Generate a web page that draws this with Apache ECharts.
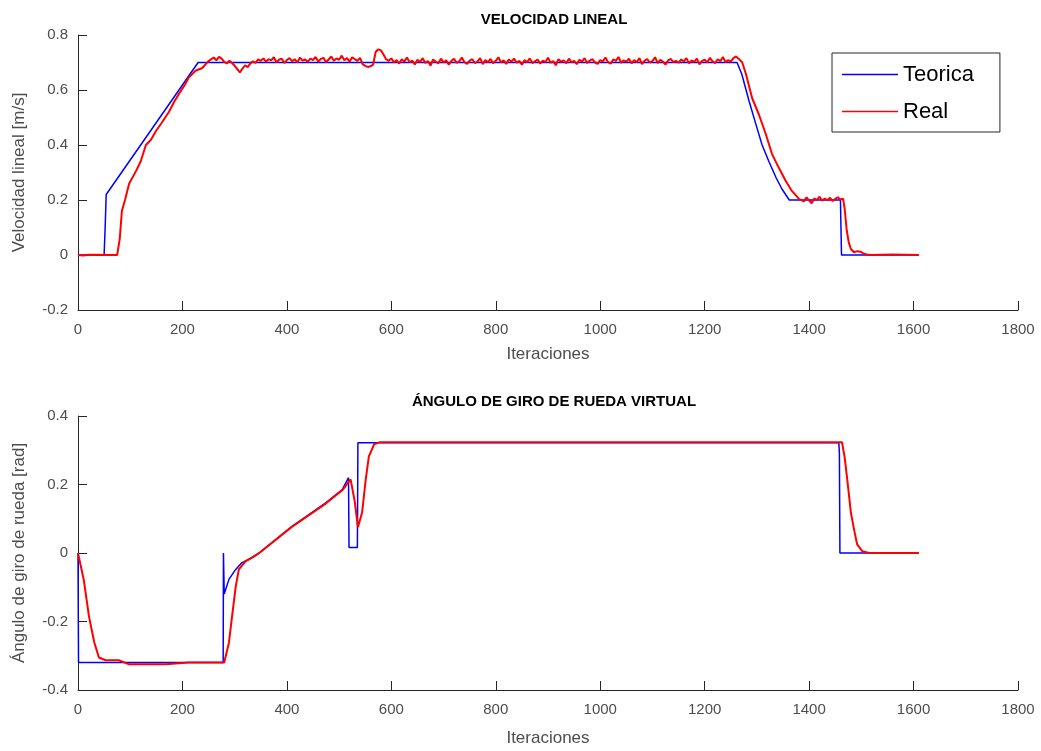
<!DOCTYPE html>
<html>
<head>
<meta charset="utf-8">
<script src="https://cdn.jsdelivr.net/npm/echarts@6/dist/echarts.min.js"></script>
<style>
  html, body { margin: 0; padding: 0; background: #fff; }
  #chart { width: 1041px; height: 751px; }
</style>
</head>
<body>
<div id="chart"></div>
<script>
// velocidad lineal - teorica
var teoricaVel = [[0,0],[50,0],[52,0.1],[54,0.22],[230,0.70],[1262,0.70],[1271,0.658],[1285,0.56],
  [1298,0.476],[1310,0.40],[1323,0.34],[1337,0.28],[1348,0.24],[1362,0.2],[1460,0.2],[1462,0],[1610,0]];

// velocidad lineal - real: arranque
var realVelStart = [[0,0],[10,-0.002],[20,0.001],[75,0],[80,0.06],[84,0.16],[90,0.2],[98,0.26],[111,0.305],
  [120,0.34],[130,0.4],[140,0.42],[149,0.45],[160,0.48],[174,0.52],[185,0.56],[193,0.585],[205,0.62],
  [212,0.645],[225,0.67],[238,0.68],[245,0.695]];

// velocidad lineal - real: tramo constante, una muestra cada 5 iteraciones desde 250
var realVelPlateauFrom = 250;
var realVelPlateauStep = 5;
var realVelPlateau = [
  0.705,0.712,0.718,0.708,0.721,0.714,0.702,0.697,0.706,0.698,0.688,0.676,0.664,0.678,0.690,0.683,0.697,0.704,0.699,0.711,
  0.706,0.715,0.703,0.712,0.708,0.719,0.701,0.710,0.714,0.698,0.709,0.716,0.705,0.712,0.700,0.718,0.707,0.711,0.703,0.714,
  0.709,0.720,0.704,0.713,0.717,0.702,0.711,0.722,0.706,0.715,0.710,0.725,0.708,0.716,0.703,0.719,0.712,0.706,0.717,0.694,
  0.688,0.684,0.686,0.692,0.738,0.748,0.744,0.729,0.712,0.706,0.715,0.700,0.709,0.696,0.712,0.704,0.718,0.701,0.707,0.693,
  0.710,0.702,0.716,0.698,0.705,0.689,0.711,0.703,0.697,0.714,0.700,0.708,0.692,0.706,0.713,0.699,0.704,0.718,0.701,0.695,
  0.707,0.712,0.698,0.703,0.716,0.694,0.709,0.701,0.713,0.697,0.706,0.719,0.700,0.708,0.695,0.711,0.703,0.714,0.699,0.706,
  0.692,0.709,0.701,0.715,0.698,0.704,0.711,0.696,0.707,0.702,0.717,0.699,0.705,0.690,0.712,0.703,0.708,0.697,0.714,0.701,
  0.706,0.694,0.710,0.703,0.716,0.698,0.707,0.712,0.700,0.695,0.709,0.704,0.718,0.701,0.696,0.711,0.706,0.720,0.699,0.708,
  0.703,0.714,0.697,0.709,0.701,0.716,0.694,0.707,0.712,0.700,0.705,0.719,0.698,0.710,0.703,0.692,0.708,0.713,0.701,0.706,
  0.699,0.711,0.704,0.716,0.697,0.708,0.702,0.714,0.693,0.706,0.710,0.700,0.717,0.704,0.698,0.712,0.705,0.720,0.701,0.709,
  0.703,0.716,0.722,0.714
];

// velocidad lineal - real: frenado
var realVelEnd = [[1272,0.70],[1279,0.658],[1291,0.57],[1304,0.51],[1317,0.44],[1329,0.367],[1342,0.317],
  [1355,0.27],[1367,0.233],[1381,0.203],[1390,0.195],[1395,0.21],[1400,0.198],[1405,0.188],[1410,0.206],
  [1415,0.2],[1420,0.212],[1425,0.197],[1430,0.205],[1435,0.199],[1440,0.208],[1445,0.196],[1450,0.204],
  [1455,0.21],[1460,0.202],[1465,0.205],[1468,0.17],[1472,0.09],[1476,0.045],[1480,0.022],[1486,0.01],
  [1492,0.014],[1498,0.012],[1504,0.006],[1510,0.002],[1520,0],[1560,0.002],[1610,0]];

// angulo de giro
var teoricaAng = [[0,0],[1,-0.32],[278,-0.32],[278.5,0],[280,-0.12],[289,-0.077],[302,-0.048],[314,-0.028],
  [327,-0.019],[347,0],[410,0.078],[475,0.147],[506,0.185],[518,0.22],[519,0.016],[535,0.016],[536,0.322],
  [1457,0.322],[1458,0.29],[1459,0],[1610,0]];
var realAng = [[0,0],[2,0],[11,-0.078],[21,-0.185],[31,-0.26],[40,-0.305],[53,-0.313],[78,-0.313],[98,-0.325],
  [168,-0.325],[212,-0.32],[280,-0.32],[289,-0.262],[295,-0.185],[302,-0.098],[308,-0.048],[321,-0.024],
  [335,-0.012],[347,0],[410,0.077],[475,0.145],[506,0.183],[522,0.215],[530,0.15],[536,0.075],[544,0.118],
  [551,0.215],[557,0.282],[567,0.317],[577,0.323],[1463,0.323],[1468,0.28],[1473,0.215],[1480,0.118],
  [1486,0.069],[1492,0.025],[1502,0.005],[1515,0],[1610,0]];

var titles = ['VELOCIDAD LINEAL', 'ÁNGULO DE GIRO DE RUEDA VIRTUAL'];
var yNames = ['Velocidad lineal [m/s]', 'Ángulo de giro de rueda [rad]'];
var xName = 'Iteraciones';

var realVel = realVelStart.slice();
realVelPlateau.forEach(function (v, i) {
  realVel.push([realVelPlateauFrom + i * realVelPlateauStep, v]);
});
realVel = realVel.concat(realVelEnd);

var font = 'Liberation Sans, Arial, sans-serif';
var axisColor = '#262626';
var textColor = '#4d4d4d';

function xAxis(gridIndex, gap) {
  return {
    type: 'value', gridIndex: gridIndex, min: 0, max: 1800, interval: 200,
    name: xName, nameLocation: 'middle', nameGap: gap,
    nameTextStyle: { fontSize: 17, color: textColor, fontFamily: font },
    axisLine: { onZero: false, lineStyle: { color: axisColor, width: 1 } },
    axisTick: { inside: true, length: 9, lineStyle: { color: axisColor } },
    axisLabel: {
      fontSize: 15, color: textColor, fontFamily: font, margin: 12,
      formatter: function (v) { return String(v); }
    },
    splitLine: { show: false }
  };
}

function yAxis(gridIndex, min, max) {
  return {
    type: 'value', gridIndex: gridIndex, min: min, max: max, interval: 0.2,
    name: yNames[gridIndex], nameLocation: 'middle', nameGap: 50,
    nameTextStyle: { fontSize: 17, color: textColor, fontFamily: font },
    axisLine: { show: true, onZero: false, lineStyle: { color: axisColor, width: 1 } },
    axisTick: { show: true, inside: true, length: 9, lineStyle: { color: axisColor } },
    axisLabel: {
      fontSize: 15, color: textColor, fontFamily: font, margin: 10,
      formatter: function (v) { return String(+v.toFixed(1)); }
    },
    splitLine: { show: false }
  };
}

function line(name, data, color, axisIndex, width) {
  return {
    name: name, type: 'line', data: data,
    xAxisIndex: axisIndex, yAxisIndex: axisIndex,
    symbol: 'none', animation: false,
    lineStyle: { color: color, width: width },
    itemStyle: { color: color }
  };
}

var chart = echarts.init(document.getElementById('chart'));
chart.setOption({
  backgroundColor: '#fff',
  animation: false,
  title: [
    { text: titles[0], left: 549, top: 7, textAlign: 'center',
      textStyle: { fontSize: 15, fontWeight: 'bold', color: '#000', fontFamily: font } },
    { text: titles[1], left: 549, top: 389, textAlign: 'center',
      textStyle: { fontSize: 15, fontWeight: 'bold', color: '#000', fontFamily: font } }
  ],
  legend: {
    data: ['Teorica', 'Real'],
    orient: 'vertical',
    left: 832, top: 53,
    backgroundColor: '#fff',
    borderColor: axisColor, borderWidth: 1,
    padding: [9, 26, 8, 10],
    icon: 'path://M0,0H56V1.5H0Z',
    itemWidth: 56, itemHeight: 2, itemGap: 12,
    textStyle: { fontSize: 22, color: '#000', fontFamily: font, lineHeight: 25 }
  },
  grid: [
    { left: 78, top: 35, width: 940, height: 275 },
    { left: 78, top: 416, width: 940, height: 274 }
  ],
  xAxis: [xAxis(0, 36), xAxis(1, 40)],
  yAxis: [yAxis(0, -0.2, 0.8), yAxis(1, -0.4, 0.4)],
  series: [
    line('Teorica', teoricaVel, '#0000ff', 0, 1.5),
    line('Real', realVel, '#ff0000', 0, 2),
    line('Teorica', teoricaAng, '#0000ff', 1, 1.5),
    line('Real', realAng, '#ff0000', 1, 2)
  ]
});
</script>
</body>
</html>
